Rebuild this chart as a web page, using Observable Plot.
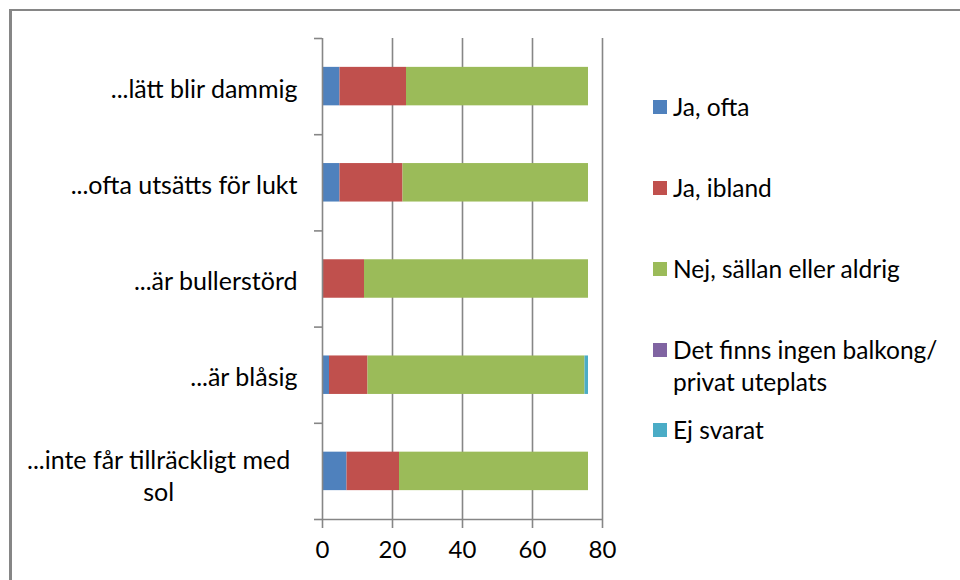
<!DOCTYPE html>
<html><head><meta charset="utf-8">
<script src="https://cdn.jsdelivr.net/npm/d3@7"></script>
<script src="https://cdn.jsdelivr.net/npm/@observablehq/plot@0.6"></script>
<style>
body{margin:0;background:#fff;}
#wrap{position:relative;width:960px;height:580px;overflow:hidden;font-family:Lato,"Open Sans",sans-serif;background:#fff;}
#frame{position:absolute;left:9px;top:9px;width:1000px;height:1000px;border-top:2.5px solid #868686;border-left:3px solid #868686;box-sizing:border-box;}
#chart{position:absolute;left:0;top:0;}
.leg{position:absolute;left:653px;font-size:24.5px;color:#000;line-height:32px;white-space:nowrap;}
.leg .sw{position:absolute;left:0;top:9px;width:14px;height:14px;}
.leg .tx{margin-left:20px;}
</style>
</head><body>
<div id="wrap"><div id="frame"></div><div id="chart"></div><div id="legend"></div></div>
<script>
const categories = ["...lätt blir dammig", "...ofta utsätts för lukt", "...är bullerstörd", "...är blåsig", "...inte får tillräckligt med sol"];
const seriesNames = ["Ja, ofta", "Ja, ibland", "Nej, sällan eller aldrig", "Det finns ingen balkong/ privat uteplats", "Ej svarat"];
const seriesColors = ["#4F81BD", "#C0504D", "#9BBB59", "#8064A2", "#4BACC6"];
const jaOfta = [5, 5, 0, 2, 7];
const jaIbland = [19, 18, 12, 11, 15];
const nejSallan = [52, 53, 64, 62, 54];
const ingenBalkong = [0, 0, 0, 0, 0];
const ejSvarat = [0, 0, 0, 1, 0];
const xTicks = [0, 20, 40, 60, 80];

const FONT = "Lato, 'Open Sans', sans-serif";
const LABEL_SIZE = 25;
const seriesValues = [jaOfta, jaIbland, nejSallan, ingenBalkong, ejSvarat];
const rows = [];
categories.forEach((c, i) => {
  let acc = 0;
  seriesValues.forEach((vals, s) => {
    const v = vals[i];
    if (v > 0) rows.push({cat: c, idx: i, series: seriesNames[s], x1: acc, x2: acc + v});
    acc += v;
  });
});

// wrap long category labels
const ctx = document.createElement("canvas").getContext("2d");
ctx.font = `${LABEL_SIZE}px ${FONT}`;
const maxW = 275;
const labels = categories.map((c, i) => {
  if (ctx.measureText(c).width <= maxW) return {idx: i, text: c, multi: false, w: ctx.measureText(c).width};
  const words = c.split(" ");
  const lines = []; let line = "";
  for (const w of words) {
    const t = line ? line + " " + w : w;
    if (ctx.measureText(t).width > maxW && line) { lines.push(line); line = w; } else line = t;
  }
  lines.push(line);
  const w = d3.max(lines, l => ctx.measureText(l).width);
  return {idx: i, text: lines.join("\n"), multi: true, w};
});
const multiLabels = labels.filter(d => d.multi);
const multiW = d3.max(multiLabels, d => d.w) || 0;

const gray = "#868686";
const chart = Plot.plot({
  width: 960, height: 580,
  marginLeft: 322, marginRight: 358, marginTop: 38, marginBottom: 61,
  style: {fontFamily: FONT, background: "transparent", color: "#000", overflow: "visible"},
  x: {domain: [0, 80], axis: null, label: null},
  y: {domain: [0, 5], reverse: true, axis: null, label: null},
  color: {domain: seriesNames, range: seriesColors},
  marks: [
    Plot.ruleX(xTicks.slice(1), {stroke: gray, strokeWidth: 1.6}),
    Plot.rectX(rows, {x1: "x1", x2: "x2", y1: d => d.idx + 0.3, y2: d => d.idx + 0.7, fill: "series"}),
    Plot.ruleX([0], {stroke: gray, strokeWidth: 1.6}),
    Plot.ruleY([5], {stroke: gray, strokeWidth: 1.6}),
    Plot.axisY(d3.range(6), {tickSize: 8, fill: "none", stroke: gray, strokeWidth: 1.6, strokeOpacity: 1, label: null}),
    Plot.axisX(xTicks, {tickSize: 9, stroke: gray, strokeWidth: 1.6, strokeOpacity: 1, fontSize: 24, tickPadding: 12, fill: "#000", label: null}),
    Plot.text(labels.filter(d => !d.multi), {x: 0, y: d => d.idx + 0.5, text: "text", textAnchor: "end", dx: -25, dy: 3, fontSize: LABEL_SIZE, fill: "#000"}),
    Plot.text(multiLabels, {x: 0, y: d => d.idx + 0.5, text: "text", textAnchor: "middle", dx: -(32 + multiW / 2), dy: 3, fontSize: LABEL_SIZE, lineHeight: 1.28, fill: "#000"})
  ]
});
document.getElementById("chart").appendChild(chart);

const legTops = [91, 172, 253, 334, 414];
const legend = document.getElementById("legend");
seriesNames.forEach((name, i) => {
  const el = document.createElement("div");
  el.className = "leg";
  el.style.top = legTops[i] + "px";
  const sw = document.createElement("div");
  sw.className = "sw"; sw.style.background = seriesColors[i];
  const tx = document.createElement("div");
  tx.className = "tx";
  tx.innerHTML = name.replace("/ ", "/<br>");
  el.appendChild(sw); el.appendChild(tx);
  legend.appendChild(el);
});
</script>
</body></html>
